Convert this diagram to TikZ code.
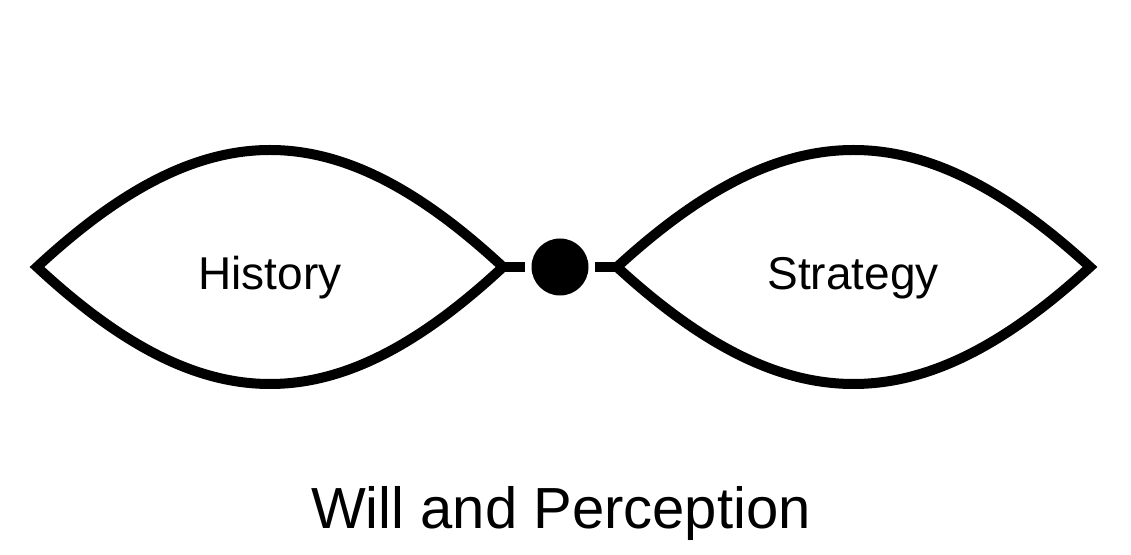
\documentclass[tikz,border=0pt]{standalone}
\usepackage{fontspec}
\setmainfont{Liberation Sans}
\usetikzlibrary{positioning}

\begin{document}
\begin{tikzpicture}[x=1pt, y=1pt,
  lens/.style={line width=10pt, line join=miter},
  link/.style={line width=10pt},
  lbl/.style={font=\fontsize{46}{50}\selectfont, inner sep=0pt}]
\useasboundingbox (0,0) rectangle (1131,554);
% lens tips
\coordinate (histW) at (37,287);
\coordinate (histE) at (503,287);
\coordinate (stratW) at (617,287);
\coordinate (stratE) at (1090,287);
% lenses
\draw[lens] (histW) .. controls (205,443) and (335,443) .. (histE)
  .. controls (335,131) and (205,131) .. cycle;
\draw[lens] (stratW) .. controls (787,443) and (920,443) .. (stratE)
  .. controls (920,131) and (787,131) .. cycle;
\node[lbl] (hist) at (270,276) {History};
\node[lbl] (strat) at (853,276) {Strategy};
% centre dot
\node[circle, fill=black, minimum size=57pt, inner sep=0pt] (will) at (560,287) {};
\draw[link, shorten >=6pt] (histE) -- (will);
\draw[link, shorten >=6pt] (stratW) -- (will);
\node[lbl, font=\fontsize{58}{62}\selectfont] (title) at (561,40) {Will and Perception};
\end{tikzpicture}
\end{document}
